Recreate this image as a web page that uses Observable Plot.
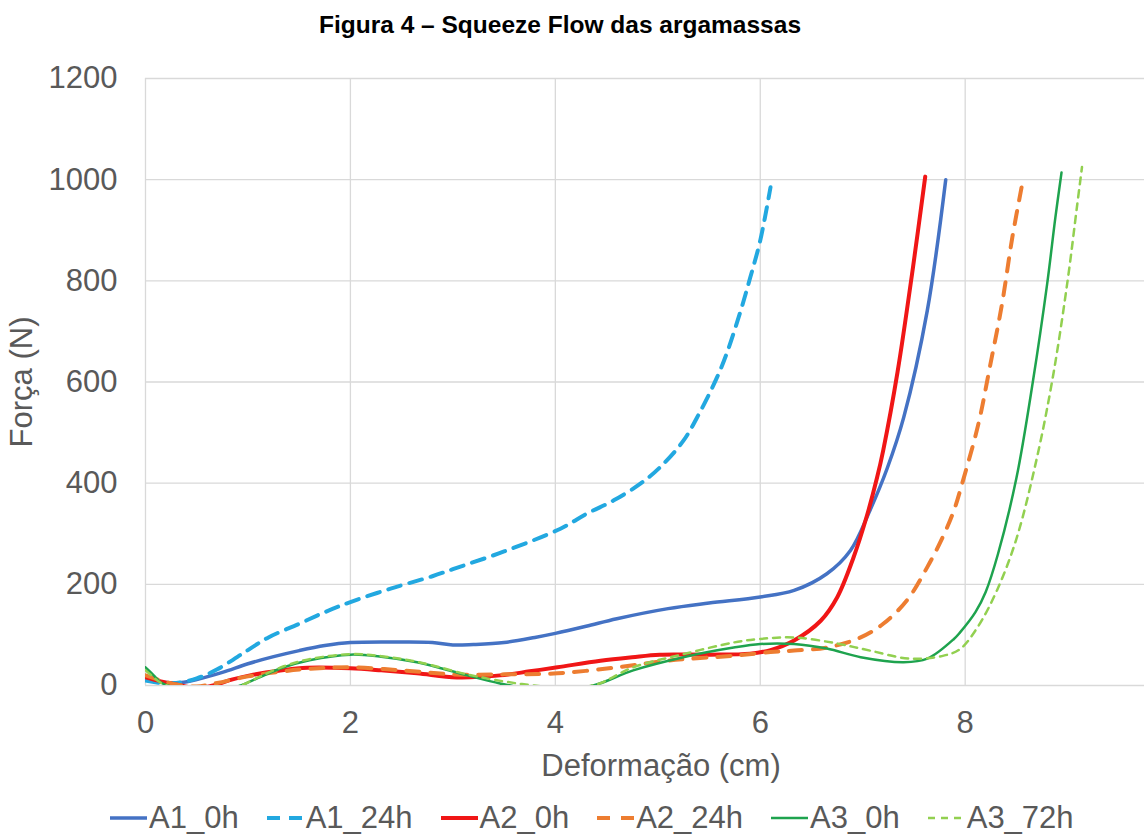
<!DOCTYPE html>
<html>
<head>
<meta charset="utf-8">
<script src="https://cdn.jsdelivr.net/npm/d3@7"></script>
<script src="https://cdn.jsdelivr.net/npm/@observablehq/plot@0.6"></script>
<style>
  body { margin:0; background:#fff; width:1144px; height:837px; overflow:hidden; font-family:"Liberation Sans", Arial, sans-serif; }
  #title { height:48px; box-sizing:border-box; padding-top:6px; line-height:38px; text-align:center; font-weight:bold; font-size:24.5px; color:#000; padding-right:24px; }
  #chart { height:742px; }
  #legend { height:47px; box-sizing:border-box; padding-top:8px; line-height:40px; padding-left:110px; display:flex; gap:28px; font-size:31px; color:#595959; white-space:nowrap; }
  .item { display:flex; align-items:center; }
  .item svg { margin-right:2px; }
</style>
</head>
<body>
<div id="title">Figura 4 – Squeeze Flow das argamassas</div>
<div id="chart"></div>
<div id="legend"></div>
<script>
const seriesNames = ["A1_0h", "A1_24h", "A2_0h", "A2_24h", "A3_0h", "A3_72h"];
const xTicks = [0, 2, 4, 6, 8];
const yTicks = [0, 200, 400, 600, 800, 1000, 1200];

const a1_0h_x = [0, 0.1, 0.2, 0.35, 0.5, 0.75, 1.0, 1.25, 1.5, 1.75, 2.0, 2.5, 2.8, 3.0, 3.2, 3.5, 3.8, 4.0, 4.3, 4.6, 5.1, 5.5, 6.0, 6.33, 6.65, 6.88, 7.07, 7.24, 7.4, 7.63, 7.81];
const a1_0h_y = [15, 8, 6, 6, 12, 26, 43, 57, 69, 79, 85, 86, 85, 80, 81, 85, 95, 103, 117, 132, 152, 163, 175, 188, 221, 267, 346, 430, 530, 741, 1000];

const a1_24h_x = [0, 0.15, 0.3, 0.5, 0.7, 1.0, 1.2, 1.5, 1.75, 2.0, 2.4, 2.8, 3.0, 3.5, 4.05, 4.31, 4.57, 4.83, 5.02, 5.25, 5.41, 5.58, 5.67, 5.8, 5.9, 6.0, 6.1];
const a1_24h_y = [10, 5, 5, 14, 32, 70, 95, 122, 145, 165, 192, 216, 230, 265, 310, 340, 366, 399, 431, 484, 540, 610, 655, 735, 805, 880, 985];

const a2_0h_x = [0, 0.15, 0.3, 0.5, 0.66, 0.85, 1.02, 1.3, 1.58, 2.0, 2.3, 2.65, 3.04, 3.46, 3.75, 4.02, 4.44, 4.75, 5.02, 5.51, 5.9, 6.1, 6.33, 6.59, 6.75, 6.91, 7.04, 7.14, 7.2, 7.34, 7.49, 7.61];
const a2_0h_y = [16, 8, 2, -5, 0, 12, 20, 29, 35, 34, 30, 24, 16, 20, 28, 36, 49, 56, 61, 61, 63, 70, 89, 128, 174, 253, 335, 411, 465, 620, 826, 1006];

const a2_24h_x = [0, 0.15, 0.3, 0.5, 0.7, 1.0, 1.3, 1.6, 2.0, 2.5, 3.0, 3.5, 4.02, 4.6, 5.09, 5.74, 6.1, 6.33, 6.65, 6.98, 7.2, 7.43, 7.63, 7.78, 7.89, 7.97, 8.13, 8.24, 8.36, 8.46, 8.56];
const a2_24h_y = [20, 10, 2, -2, 5, 18, 27, 33, 36, 30, 22, 22, 24, 36, 49, 59, 66, 69, 75, 95, 122, 168, 234, 293, 346, 399, 518, 629, 755, 886, 995];

const a3_0h_x = [0, 0.08, 0.15, 0.3, 0.5, 0.75, 0.93, 1.1, 1.35, 1.6, 2.0, 2.3, 2.65, 3.14, 3.46, 3.7, 4.0, 4.37, 4.76, 5.25, 5.74, 6.0, 6.33, 6.65, 6.98, 7.4, 7.63, 7.89, 7.95, 8.1, 8.2, 8.32, 8.5, 8.66, 8.8, 8.88, 8.94];
const a3_0h_y = [36, 20, 6, -5, -12, -8, 0, 15, 36, 50, 61, 57, 46, 20, 4, -5, -10, 0, 30, 56, 75, 82, 82, 73, 56, 46, 53, 92, 105, 145, 185, 260, 410, 600, 794, 925, 1014];

const a3_72h_x = [0, 0.08, 0.15, 0.3, 0.5, 0.75, 0.93, 1.1, 1.35, 1.6, 2.0, 2.3, 2.65, 3.14, 3.5, 3.79, 4.1, 4.4, 4.76, 5.25, 5.74, 6.0, 6.33, 6.75, 7.07, 7.46, 7.79, 7.95, 8.12, 8.31, 8.5, 8.7, 8.86, 9.0, 9.09, 9.14];
const a3_72h_y = [30, 16, 5, -5, -12, -8, 0, 16, 38, 52, 62, 58, 47, 22, 8, 0, -5, 2, 36, 62, 85, 92, 95, 83, 69, 53, 59, 72, 115, 188, 290, 450, 615, 801, 945, 1025];

const colors = ["#4472C4", "#22A8E0", "#F01616", "#ED7D31", "#1EA34E", "#92D050"];
const widths = [3.5, 4, 4, 4, 2.5, 2.5];
const dashes = [null, "13,9", null, "13,11", null, "7,6"];

const xs = [a1_0h_x, a1_24h_x, a2_0h_x, a2_24h_x, a3_0h_x, a3_72h_x];
const ys = [a1_0h_y, a1_24h_y, a2_0h_y, a2_24h_y, a3_0h_y, a3_72h_y];

const lineMarks = seriesNames.map((name, i) => {
  const data = xs[i].map((x, j) => ({x, y: ys[i][j]}));
  return Plot.line(data, {
    x: "x", y: "y", stroke: colors[i], strokeWidth: widths[i],
    strokeDasharray: dashes[i] || undefined, curve: "catmull-rom", clip: true
  });
});

const gridColor = "#d9d9d9";
const txt = "#595959";

const plot = Plot.plot({
  width: 1144, height: 742,
  marginTop: 30, marginBottom: 105, marginLeft: 145, marginRight: 0,
  x: {domain: [0, 9.75]},
  y: {domain: [0, 1200]},
  style: {fontFamily: "'Liberation Sans', Arial, sans-serif", background: "white", color: txt},
  marks: [
    Plot.gridY(yTicks, {stroke: gridColor, strokeOpacity: 1, strokeWidth: 1.3}),
    Plot.gridX(xTicks, {stroke: gridColor, strokeOpacity: 1, strokeWidth: 1.3}),
    Plot.axisY(yTicks, {tickSize: 0, tickPadding: 28, fontSize: 31, fill: txt, label: null, tickFormat: d => String(d)}),
    Plot.axisX(xTicks, {tickSize: 0, tickPadding: 25, fontSize: 31, fill: txt, label: null, tickFormat: d => String(d)}),
    ...lineMarks,
    Plot.text(["Deformação (cm)"], {frameAnchor: "bottom", dy: 90, dx: 16, fontSize: 31, fill: txt}),
    Plot.text(["Força (N)"], {frameAnchor: "left", textAnchor: "middle", rotate: -90, dx: -123, fontSize: 31, fill: txt})
  ]
});
document.getElementById("chart").appendChild(plot);

const legend = document.getElementById("legend");
seriesNames.forEach((name, i) => {
  const item = document.createElement("div");
  item.className = "item";
  const ns = "http://www.w3.org/2000/svg";
  const svg = document.createElementNS(ns, "svg");
  svg.setAttribute("width", 37); svg.setAttribute("height", 20);
  const ln = document.createElementNS(ns, "line");
  ln.setAttribute("x1", 0); ln.setAttribute("x2", 37);
  ln.setAttribute("y1", 10); ln.setAttribute("y2", 10);
  ln.setAttribute("stroke", colors[i]);
  ln.setAttribute("stroke-width", widths[i]);
  if (dashes[i]) ln.setAttribute("stroke-dasharray", dashes[i]);
  svg.appendChild(ln);
  item.appendChild(svg);
  const span = document.createElement("span");
  span.textContent = name;
  item.appendChild(span);
  legend.appendChild(item);
});
</script>
</body>
</html>
